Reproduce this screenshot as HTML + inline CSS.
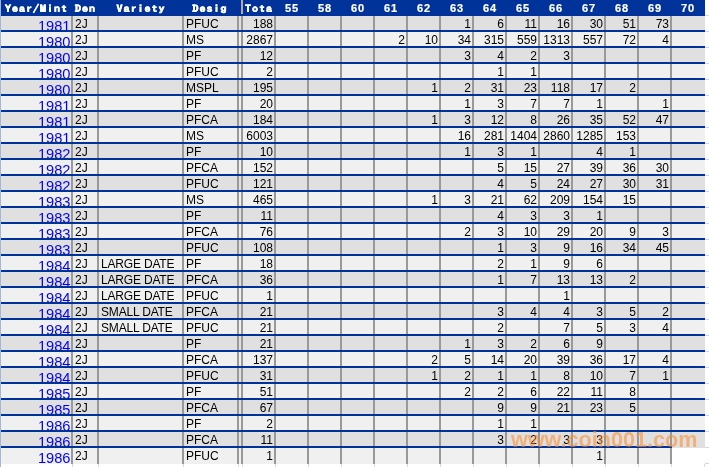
<!DOCTYPE html>
<html lang="en"><head><meta charset="utf-8"><title>Population report</title>
<style>
html,body{margin:0;padding:0;background:#fff;}
body{width:709px;height:467px;overflow:hidden;position:relative;font-family:"Liberation Sans",Arial,sans-serif;font-size:12px;color:#000;}
table{position:absolute;left:1px;top:0;border-collapse:separate;border-spacing:0;table-layout:fixed;width:704px;}
td,th{padding:0;margin:0;overflow:hidden;white-space:nowrap;font-weight:normal;}
th{height:16px;background:#003399;color:#fff;border-right:2px solid #003399;}
th.last,th.s{border-right:none;}
th.s{vertical-align:top;}
th div{height:16px;line-height:16px;overflow:hidden;font-family:"IPAGothic","Liberation Mono",monospace;font-weight:bold;font-size:12px;letter-spacing:1px;text-align:center;position:relative;}
th div span{display:inline-block;position:relative;top:-1px;left:0px;padding-left:1px;transform:scaleY(0.8);transform-origin:0 12px;-webkit-text-stroke:0.5px #fff;}
th.g div span{left:-1px;}
th.n div{font-family:"Liberation Sans",Arial,sans-serif;font-size:11px;letter-spacing:0.9px;}
th.n div span{transform:none;-webkit-text-stroke:0.2px #fff;top:0px;}
th.s div{height:14px;width:2px;margin-left:2px;background:#b3aca6;}
td{height:14px;border-bottom:2px solid #003399;}
td div{border-right:2px solid #999;}
td.last div{border-right:none;}
tr.o td{background:#e0e0e0;}
tr.e td{background:#f0f0f0;}
td div{height:14px;line-height:14px;overflow:hidden;position:relative;}
td div span{position:absolute;top:1px;}
td.y div span{right:0.5px;top:0px;font-size:14.67px;line-height:20px;}
td.y a{color:#00f;text-decoration:none;}
td.d span,td.v span,td.g span{left:2px;}
td.t span,td.n span{right:1px;}
tr.z td{border-bottom:none;height:16px;}
tr.z td div{height:16px;}
tr.z td.last{background:#fff;}
tr.y td.last{border-bottom-color:transparent;}
td.v span{letter-spacing:-0.18px;}
th.last div span{left:-1px;}
#ls{position:absolute;left:0;top:0;width:1px;height:467px;background:#a4b8d6;}
#rg{position:absolute;left:705px;top:0;width:4px;height:464px;background:repeating-linear-gradient(to bottom,#fff 0,#fff 15px,#d0d9ea 15px,#d0d9ea 16px);}
#bg i{position:absolute;top:464px;width:1px;height:3px;background:#d0d9ea;}
#wm{position:absolute;filter:blur(0.4px);left:511px;top:426px;font-family:"Liberation Sans",Arial,sans-serif;font-weight:bold;font-size:21.6px;line-height:28px;color:rgba(255,142,45,0.58);white-space:nowrap;}
</style></head>
<body>
<table>
<colgroup>
<col style="width:72px">
<col style="width:26px">
<col style="width:85px">
<col style="width:55px">
<col style="width:4px">
<col style="width:33px">
<col style="width:33px">
<col style="width:33px">
<col style="width:33px">
<col style="width:33px">
<col style="width:33px">
<col style="width:33px">
<col style="width:33px">
<col style="width:33px">
<col style="width:33px">
<col style="width:33px">
<col style="width:33px">
<col style="width:33px">
<col style="width:33px">
</colgroup>
<thead><tr>
<th class="y"><div><span>Year/Mint</span></div></th>
<th class="d"><div><span>Den</span></div></th>
<th class="v"><div><span>Variety</span></div></th>
<th class="g"><div><span>Desig</span></div></th>
<th class="s"><div><span></span></div></th>
<th class="t"><div><span>Tota</span></div></th>
<th class="n"><div><span>55</span></div></th>
<th class="n"><div><span>58</span></div></th>
<th class="n"><div><span>60</span></div></th>
<th class="n"><div><span>61</span></div></th>
<th class="n"><div><span>62</span></div></th>
<th class="n"><div><span>63</span></div></th>
<th class="n"><div><span>64</span></div></th>
<th class="n"><div><span>65</span></div></th>
<th class="n"><div><span>66</span></div></th>
<th class="n"><div><span>67</span></div></th>
<th class="n"><div><span>68</span></div></th>
<th class="n"><div><span>69</span></div></th>
<th class="n last"><div><span>70</span></div></th>
</tr></thead>
<tbody>
<tr class="o"><td class="y"><div><span><a href="#">1981</a></span></div></td><td class="d"><div><span>2J</span></div></td><td class="v"><div><span></span></div></td><td class="g"><div><span>PFUC</span></div></td><td class="s"><div></div></td><td class="t"><div><span>188</span></div></td><td class="n"><div><span></span></div></td><td class="n"><div><span></span></div></td><td class="n"><div><span></span></div></td><td class="n"><div><span></span></div></td><td class="n"><div><span></span></div></td><td class="n"><div><span>1</span></div></td><td class="n"><div><span>6</span></div></td><td class="n"><div><span>11</span></div></td><td class="n"><div><span>16</span></div></td><td class="n"><div><span>30</span></div></td><td class="n"><div><span>51</span></div></td><td class="n"><div><span>73</span></div></td><td class="n last"><div><span></span></div></td></tr>
<tr class="e"><td class="y"><div><span><a href="#">1980</a></span></div></td><td class="d"><div><span>2J</span></div></td><td class="v"><div><span></span></div></td><td class="g"><div><span>MS</span></div></td><td class="s"><div></div></td><td class="t"><div><span>2867</span></div></td><td class="n"><div><span></span></div></td><td class="n"><div><span></span></div></td><td class="n"><div><span></span></div></td><td class="n"><div><span>2</span></div></td><td class="n"><div><span>10</span></div></td><td class="n"><div><span>34</span></div></td><td class="n"><div><span>315</span></div></td><td class="n"><div><span>559</span></div></td><td class="n"><div><span>1313</span></div></td><td class="n"><div><span>557</span></div></td><td class="n"><div><span>72</span></div></td><td class="n"><div><span>4</span></div></td><td class="n last"><div><span></span></div></td></tr>
<tr class="o"><td class="y"><div><span><a href="#">1980</a></span></div></td><td class="d"><div><span>2J</span></div></td><td class="v"><div><span></span></div></td><td class="g"><div><span>PF</span></div></td><td class="s"><div></div></td><td class="t"><div><span>12</span></div></td><td class="n"><div><span></span></div></td><td class="n"><div><span></span></div></td><td class="n"><div><span></span></div></td><td class="n"><div><span></span></div></td><td class="n"><div><span></span></div></td><td class="n"><div><span>3</span></div></td><td class="n"><div><span>4</span></div></td><td class="n"><div><span>2</span></div></td><td class="n"><div><span>3</span></div></td><td class="n"><div><span></span></div></td><td class="n"><div><span></span></div></td><td class="n"><div><span></span></div></td><td class="n last"><div><span></span></div></td></tr>
<tr class="e"><td class="y"><div><span><a href="#">1980</a></span></div></td><td class="d"><div><span>2J</span></div></td><td class="v"><div><span></span></div></td><td class="g"><div><span>PFUC</span></div></td><td class="s"><div></div></td><td class="t"><div><span>2</span></div></td><td class="n"><div><span></span></div></td><td class="n"><div><span></span></div></td><td class="n"><div><span></span></div></td><td class="n"><div><span></span></div></td><td class="n"><div><span></span></div></td><td class="n"><div><span></span></div></td><td class="n"><div><span>1</span></div></td><td class="n"><div><span>1</span></div></td><td class="n"><div><span></span></div></td><td class="n"><div><span></span></div></td><td class="n"><div><span></span></div></td><td class="n"><div><span></span></div></td><td class="n last"><div><span></span></div></td></tr>
<tr class="o"><td class="y"><div><span><a href="#">1980</a></span></div></td><td class="d"><div><span>2J</span></div></td><td class="v"><div><span></span></div></td><td class="g"><div><span>MSPL</span></div></td><td class="s"><div></div></td><td class="t"><div><span>195</span></div></td><td class="n"><div><span></span></div></td><td class="n"><div><span></span></div></td><td class="n"><div><span></span></div></td><td class="n"><div><span></span></div></td><td class="n"><div><span>1</span></div></td><td class="n"><div><span>2</span></div></td><td class="n"><div><span>31</span></div></td><td class="n"><div><span>23</span></div></td><td class="n"><div><span>118</span></div></td><td class="n"><div><span>17</span></div></td><td class="n"><div><span>2</span></div></td><td class="n"><div><span></span></div></td><td class="n last"><div><span></span></div></td></tr>
<tr class="e"><td class="y"><div><span><a href="#">1981</a></span></div></td><td class="d"><div><span>2J</span></div></td><td class="v"><div><span></span></div></td><td class="g"><div><span>PF</span></div></td><td class="s"><div></div></td><td class="t"><div><span>20</span></div></td><td class="n"><div><span></span></div></td><td class="n"><div><span></span></div></td><td class="n"><div><span></span></div></td><td class="n"><div><span></span></div></td><td class="n"><div><span></span></div></td><td class="n"><div><span>1</span></div></td><td class="n"><div><span>3</span></div></td><td class="n"><div><span>7</span></div></td><td class="n"><div><span>7</span></div></td><td class="n"><div><span>1</span></div></td><td class="n"><div><span></span></div></td><td class="n"><div><span>1</span></div></td><td class="n last"><div><span></span></div></td></tr>
<tr class="o"><td class="y"><div><span><a href="#">1981</a></span></div></td><td class="d"><div><span>2J</span></div></td><td class="v"><div><span></span></div></td><td class="g"><div><span>PFCA</span></div></td><td class="s"><div></div></td><td class="t"><div><span>184</span></div></td><td class="n"><div><span></span></div></td><td class="n"><div><span></span></div></td><td class="n"><div><span></span></div></td><td class="n"><div><span></span></div></td><td class="n"><div><span>1</span></div></td><td class="n"><div><span>3</span></div></td><td class="n"><div><span>12</span></div></td><td class="n"><div><span>8</span></div></td><td class="n"><div><span>26</span></div></td><td class="n"><div><span>35</span></div></td><td class="n"><div><span>52</span></div></td><td class="n"><div><span>47</span></div></td><td class="n last"><div><span></span></div></td></tr>
<tr class="e"><td class="y"><div><span><a href="#">1981</a></span></div></td><td class="d"><div><span>2J</span></div></td><td class="v"><div><span></span></div></td><td class="g"><div><span>MS</span></div></td><td class="s"><div></div></td><td class="t"><div><span>6003</span></div></td><td class="n"><div><span></span></div></td><td class="n"><div><span></span></div></td><td class="n"><div><span></span></div></td><td class="n"><div><span></span></div></td><td class="n"><div><span></span></div></td><td class="n"><div><span>16</span></div></td><td class="n"><div><span>281</span></div></td><td class="n"><div><span>1404</span></div></td><td class="n"><div><span>2860</span></div></td><td class="n"><div><span>1285</span></div></td><td class="n"><div><span>153</span></div></td><td class="n"><div><span></span></div></td><td class="n last"><div><span></span></div></td></tr>
<tr class="o"><td class="y"><div><span><a href="#">1982</a></span></div></td><td class="d"><div><span>2J</span></div></td><td class="v"><div><span></span></div></td><td class="g"><div><span>PF</span></div></td><td class="s"><div></div></td><td class="t"><div><span>10</span></div></td><td class="n"><div><span></span></div></td><td class="n"><div><span></span></div></td><td class="n"><div><span></span></div></td><td class="n"><div><span></span></div></td><td class="n"><div><span></span></div></td><td class="n"><div><span>1</span></div></td><td class="n"><div><span>3</span></div></td><td class="n"><div><span>1</span></div></td><td class="n"><div><span></span></div></td><td class="n"><div><span>4</span></div></td><td class="n"><div><span>1</span></div></td><td class="n"><div><span></span></div></td><td class="n last"><div><span></span></div></td></tr>
<tr class="e"><td class="y"><div><span><a href="#">1982</a></span></div></td><td class="d"><div><span>2J</span></div></td><td class="v"><div><span></span></div></td><td class="g"><div><span>PFCA</span></div></td><td class="s"><div></div></td><td class="t"><div><span>152</span></div></td><td class="n"><div><span></span></div></td><td class="n"><div><span></span></div></td><td class="n"><div><span></span></div></td><td class="n"><div><span></span></div></td><td class="n"><div><span></span></div></td><td class="n"><div><span></span></div></td><td class="n"><div><span>5</span></div></td><td class="n"><div><span>15</span></div></td><td class="n"><div><span>27</span></div></td><td class="n"><div><span>39</span></div></td><td class="n"><div><span>36</span></div></td><td class="n"><div><span>30</span></div></td><td class="n last"><div><span></span></div></td></tr>
<tr class="o"><td class="y"><div><span><a href="#">1982</a></span></div></td><td class="d"><div><span>2J</span></div></td><td class="v"><div><span></span></div></td><td class="g"><div><span>PFUC</span></div></td><td class="s"><div></div></td><td class="t"><div><span>121</span></div></td><td class="n"><div><span></span></div></td><td class="n"><div><span></span></div></td><td class="n"><div><span></span></div></td><td class="n"><div><span></span></div></td><td class="n"><div><span></span></div></td><td class="n"><div><span></span></div></td><td class="n"><div><span>4</span></div></td><td class="n"><div><span>5</span></div></td><td class="n"><div><span>24</span></div></td><td class="n"><div><span>27</span></div></td><td class="n"><div><span>30</span></div></td><td class="n"><div><span>31</span></div></td><td class="n last"><div><span></span></div></td></tr>
<tr class="e"><td class="y"><div><span><a href="#">1983</a></span></div></td><td class="d"><div><span>2J</span></div></td><td class="v"><div><span></span></div></td><td class="g"><div><span>MS</span></div></td><td class="s"><div></div></td><td class="t"><div><span>465</span></div></td><td class="n"><div><span></span></div></td><td class="n"><div><span></span></div></td><td class="n"><div><span></span></div></td><td class="n"><div><span></span></div></td><td class="n"><div><span>1</span></div></td><td class="n"><div><span>3</span></div></td><td class="n"><div><span>21</span></div></td><td class="n"><div><span>62</span></div></td><td class="n"><div><span>209</span></div></td><td class="n"><div><span>154</span></div></td><td class="n"><div><span>15</span></div></td><td class="n"><div><span></span></div></td><td class="n last"><div><span></span></div></td></tr>
<tr class="o"><td class="y"><div><span><a href="#">1983</a></span></div></td><td class="d"><div><span>2J</span></div></td><td class="v"><div><span></span></div></td><td class="g"><div><span>PF</span></div></td><td class="s"><div></div></td><td class="t"><div><span>11</span></div></td><td class="n"><div><span></span></div></td><td class="n"><div><span></span></div></td><td class="n"><div><span></span></div></td><td class="n"><div><span></span></div></td><td class="n"><div><span></span></div></td><td class="n"><div><span></span></div></td><td class="n"><div><span>4</span></div></td><td class="n"><div><span>3</span></div></td><td class="n"><div><span>3</span></div></td><td class="n"><div><span>1</span></div></td><td class="n"><div><span></span></div></td><td class="n"><div><span></span></div></td><td class="n last"><div><span></span></div></td></tr>
<tr class="e"><td class="y"><div><span><a href="#">1983</a></span></div></td><td class="d"><div><span>2J</span></div></td><td class="v"><div><span></span></div></td><td class="g"><div><span>PFCA</span></div></td><td class="s"><div></div></td><td class="t"><div><span>76</span></div></td><td class="n"><div><span></span></div></td><td class="n"><div><span></span></div></td><td class="n"><div><span></span></div></td><td class="n"><div><span></span></div></td><td class="n"><div><span></span></div></td><td class="n"><div><span>2</span></div></td><td class="n"><div><span>3</span></div></td><td class="n"><div><span>10</span></div></td><td class="n"><div><span>29</span></div></td><td class="n"><div><span>20</span></div></td><td class="n"><div><span>9</span></div></td><td class="n"><div><span>3</span></div></td><td class="n last"><div><span></span></div></td></tr>
<tr class="o"><td class="y"><div><span><a href="#">1983</a></span></div></td><td class="d"><div><span>2J</span></div></td><td class="v"><div><span></span></div></td><td class="g"><div><span>PFUC</span></div></td><td class="s"><div></div></td><td class="t"><div><span>108</span></div></td><td class="n"><div><span></span></div></td><td class="n"><div><span></span></div></td><td class="n"><div><span></span></div></td><td class="n"><div><span></span></div></td><td class="n"><div><span></span></div></td><td class="n"><div><span></span></div></td><td class="n"><div><span>1</span></div></td><td class="n"><div><span>3</span></div></td><td class="n"><div><span>9</span></div></td><td class="n"><div><span>16</span></div></td><td class="n"><div><span>34</span></div></td><td class="n"><div><span>45</span></div></td><td class="n last"><div><span></span></div></td></tr>
<tr class="e"><td class="y"><div><span><a href="#">1984</a></span></div></td><td class="d"><div><span>2J</span></div></td><td class="v"><div><span>LARGE DATE</span></div></td><td class="g"><div><span>PF</span></div></td><td class="s"><div></div></td><td class="t"><div><span>18</span></div></td><td class="n"><div><span></span></div></td><td class="n"><div><span></span></div></td><td class="n"><div><span></span></div></td><td class="n"><div><span></span></div></td><td class="n"><div><span></span></div></td><td class="n"><div><span></span></div></td><td class="n"><div><span>2</span></div></td><td class="n"><div><span>1</span></div></td><td class="n"><div><span>9</span></div></td><td class="n"><div><span>6</span></div></td><td class="n"><div><span></span></div></td><td class="n"><div><span></span></div></td><td class="n last"><div><span></span></div></td></tr>
<tr class="o"><td class="y"><div><span><a href="#">1984</a></span></div></td><td class="d"><div><span>2J</span></div></td><td class="v"><div><span>LARGE DATE</span></div></td><td class="g"><div><span>PFCA</span></div></td><td class="s"><div></div></td><td class="t"><div><span>36</span></div></td><td class="n"><div><span></span></div></td><td class="n"><div><span></span></div></td><td class="n"><div><span></span></div></td><td class="n"><div><span></span></div></td><td class="n"><div><span></span></div></td><td class="n"><div><span></span></div></td><td class="n"><div><span>1</span></div></td><td class="n"><div><span>7</span></div></td><td class="n"><div><span>13</span></div></td><td class="n"><div><span>13</span></div></td><td class="n"><div><span>2</span></div></td><td class="n"><div><span></span></div></td><td class="n last"><div><span></span></div></td></tr>
<tr class="e"><td class="y"><div><span><a href="#">1984</a></span></div></td><td class="d"><div><span>2J</span></div></td><td class="v"><div><span>LARGE DATE</span></div></td><td class="g"><div><span>PFUC</span></div></td><td class="s"><div></div></td><td class="t"><div><span>1</span></div></td><td class="n"><div><span></span></div></td><td class="n"><div><span></span></div></td><td class="n"><div><span></span></div></td><td class="n"><div><span></span></div></td><td class="n"><div><span></span></div></td><td class="n"><div><span></span></div></td><td class="n"><div><span></span></div></td><td class="n"><div><span></span></div></td><td class="n"><div><span>1</span></div></td><td class="n"><div><span></span></div></td><td class="n"><div><span></span></div></td><td class="n"><div><span></span></div></td><td class="n last"><div><span></span></div></td></tr>
<tr class="o"><td class="y"><div><span><a href="#">1984</a></span></div></td><td class="d"><div><span>2J</span></div></td><td class="v"><div><span>SMALL DATE</span></div></td><td class="g"><div><span>PFCA</span></div></td><td class="s"><div></div></td><td class="t"><div><span>21</span></div></td><td class="n"><div><span></span></div></td><td class="n"><div><span></span></div></td><td class="n"><div><span></span></div></td><td class="n"><div><span></span></div></td><td class="n"><div><span></span></div></td><td class="n"><div><span></span></div></td><td class="n"><div><span>3</span></div></td><td class="n"><div><span>4</span></div></td><td class="n"><div><span>4</span></div></td><td class="n"><div><span>3</span></div></td><td class="n"><div><span>5</span></div></td><td class="n"><div><span>2</span></div></td><td class="n last"><div><span></span></div></td></tr>
<tr class="e"><td class="y"><div><span><a href="#">1984</a></span></div></td><td class="d"><div><span>2J</span></div></td><td class="v"><div><span>SMALL DATE</span></div></td><td class="g"><div><span>PFUC</span></div></td><td class="s"><div></div></td><td class="t"><div><span>21</span></div></td><td class="n"><div><span></span></div></td><td class="n"><div><span></span></div></td><td class="n"><div><span></span></div></td><td class="n"><div><span></span></div></td><td class="n"><div><span></span></div></td><td class="n"><div><span></span></div></td><td class="n"><div><span>2</span></div></td><td class="n"><div><span></span></div></td><td class="n"><div><span>7</span></div></td><td class="n"><div><span>5</span></div></td><td class="n"><div><span>3</span></div></td><td class="n"><div><span>4</span></div></td><td class="n last"><div><span></span></div></td></tr>
<tr class="o"><td class="y"><div><span><a href="#">1984</a></span></div></td><td class="d"><div><span>2J</span></div></td><td class="v"><div><span></span></div></td><td class="g"><div><span>PF</span></div></td><td class="s"><div></div></td><td class="t"><div><span>21</span></div></td><td class="n"><div><span></span></div></td><td class="n"><div><span></span></div></td><td class="n"><div><span></span></div></td><td class="n"><div><span></span></div></td><td class="n"><div><span></span></div></td><td class="n"><div><span>1</span></div></td><td class="n"><div><span>3</span></div></td><td class="n"><div><span>2</span></div></td><td class="n"><div><span>6</span></div></td><td class="n"><div><span>9</span></div></td><td class="n"><div><span></span></div></td><td class="n"><div><span></span></div></td><td class="n last"><div><span></span></div></td></tr>
<tr class="e"><td class="y"><div><span><a href="#">1984</a></span></div></td><td class="d"><div><span>2J</span></div></td><td class="v"><div><span></span></div></td><td class="g"><div><span>PFCA</span></div></td><td class="s"><div></div></td><td class="t"><div><span>137</span></div></td><td class="n"><div><span></span></div></td><td class="n"><div><span></span></div></td><td class="n"><div><span></span></div></td><td class="n"><div><span></span></div></td><td class="n"><div><span>2</span></div></td><td class="n"><div><span>5</span></div></td><td class="n"><div><span>14</span></div></td><td class="n"><div><span>20</span></div></td><td class="n"><div><span>39</span></div></td><td class="n"><div><span>36</span></div></td><td class="n"><div><span>17</span></div></td><td class="n"><div><span>4</span></div></td><td class="n last"><div><span></span></div></td></tr>
<tr class="o"><td class="y"><div><span><a href="#">1984</a></span></div></td><td class="d"><div><span>2J</span></div></td><td class="v"><div><span></span></div></td><td class="g"><div><span>PFUC</span></div></td><td class="s"><div></div></td><td class="t"><div><span>31</span></div></td><td class="n"><div><span></span></div></td><td class="n"><div><span></span></div></td><td class="n"><div><span></span></div></td><td class="n"><div><span></span></div></td><td class="n"><div><span>1</span></div></td><td class="n"><div><span>2</span></div></td><td class="n"><div><span>1</span></div></td><td class="n"><div><span>1</span></div></td><td class="n"><div><span>8</span></div></td><td class="n"><div><span>10</span></div></td><td class="n"><div><span>7</span></div></td><td class="n"><div><span>1</span></div></td><td class="n last"><div><span></span></div></td></tr>
<tr class="e"><td class="y"><div><span><a href="#">1985</a></span></div></td><td class="d"><div><span>2J</span></div></td><td class="v"><div><span></span></div></td><td class="g"><div><span>PF</span></div></td><td class="s"><div></div></td><td class="t"><div><span>51</span></div></td><td class="n"><div><span></span></div></td><td class="n"><div><span></span></div></td><td class="n"><div><span></span></div></td><td class="n"><div><span></span></div></td><td class="n"><div><span></span></div></td><td class="n"><div><span>2</span></div></td><td class="n"><div><span>2</span></div></td><td class="n"><div><span>6</span></div></td><td class="n"><div><span>22</span></div></td><td class="n"><div><span>11</span></div></td><td class="n"><div><span>8</span></div></td><td class="n"><div><span></span></div></td><td class="n last"><div><span></span></div></td></tr>
<tr class="o"><td class="y"><div><span><a href="#">1985</a></span></div></td><td class="d"><div><span>2J</span></div></td><td class="v"><div><span></span></div></td><td class="g"><div><span>PFCA</span></div></td><td class="s"><div></div></td><td class="t"><div><span>67</span></div></td><td class="n"><div><span></span></div></td><td class="n"><div><span></span></div></td><td class="n"><div><span></span></div></td><td class="n"><div><span></span></div></td><td class="n"><div><span></span></div></td><td class="n"><div><span></span></div></td><td class="n"><div><span>9</span></div></td><td class="n"><div><span>9</span></div></td><td class="n"><div><span>21</span></div></td><td class="n"><div><span>23</span></div></td><td class="n"><div><span>5</span></div></td><td class="n"><div><span></span></div></td><td class="n last"><div><span></span></div></td></tr>
<tr class="e"><td class="y"><div><span><a href="#">1986</a></span></div></td><td class="d"><div><span>2J</span></div></td><td class="v"><div><span></span></div></td><td class="g"><div><span>PF</span></div></td><td class="s"><div></div></td><td class="t"><div><span>2</span></div></td><td class="n"><div><span></span></div></td><td class="n"><div><span></span></div></td><td class="n"><div><span></span></div></td><td class="n"><div><span></span></div></td><td class="n"><div><span></span></div></td><td class="n"><div><span></span></div></td><td class="n"><div><span>1</span></div></td><td class="n"><div><span>1</span></div></td><td class="n"><div><span></span></div></td><td class="n"><div><span></span></div></td><td class="n"><div><span></span></div></td><td class="n"><div><span></span></div></td><td class="n last"><div><span></span></div></td></tr>
<tr class="o y"><td class="y"><div><span><a href="#">1986</a></span></div></td><td class="d"><div><span>2J</span></div></td><td class="v"><div><span></span></div></td><td class="g"><div><span>PFCA</span></div></td><td class="s"><div></div></td><td class="t"><div><span>11</span></div></td><td class="n"><div><span></span></div></td><td class="n"><div><span></span></div></td><td class="n"><div><span></span></div></td><td class="n"><div><span></span></div></td><td class="n"><div><span></span></div></td><td class="n"><div><span></span></div></td><td class="n"><div><span>3</span></div></td><td class="n"><div><span>2</span></div></td><td class="n"><div><span>3</span></div></td><td class="n"><div><span>3</span></div></td><td class="n"><div><span></span></div></td><td class="n"><div><span></span></div></td><td class="n last"><div><span></span></div></td></tr>
<tr class="e z"><td class="y"><div><span><a href="#">1986</a></span></div></td><td class="d"><div><span>2J</span></div></td><td class="v"><div><span></span></div></td><td class="g"><div><span>PFUC</span></div></td><td class="s"><div></div></td><td class="t"><div><span>1</span></div></td><td class="n"><div><span></span></div></td><td class="n"><div><span></span></div></td><td class="n"><div><span></span></div></td><td class="n"><div><span></span></div></td><td class="n"><div><span></span></div></td><td class="n"><div><span></span></div></td><td class="n"><div><span></span></div></td><td class="n"><div><span></span></div></td><td class="n"><div><span></span></div></td><td class="n"><div><span>1</span></div></td><td class="n"><div><span></span></div></td><td class="n"><div><span></span></div></td><td class="n last"><div><span></span></div></td></tr>
</tbody></table>
<div id="ls"></div><div id="rg"></div><div id="bg"><i style="left:72px"></i><i style="left:98px"></i><i style="left:183px"></i><i style="left:238px"></i><i style="left:242px"></i><i style="left:275px"></i><i style="left:308px"></i><i style="left:341px"></i><i style="left:374px"></i><i style="left:407px"></i><i style="left:440px"></i><i style="left:473px"></i><i style="left:506px"></i><i style="left:539px"></i><i style="left:572px"></i><i style="left:605px"></i><i style="left:638px"></i><i style="left:671px"></i><i style="left:704px"></i></div>
<div id="wm">www.coin001.com</div>
</body></html>
